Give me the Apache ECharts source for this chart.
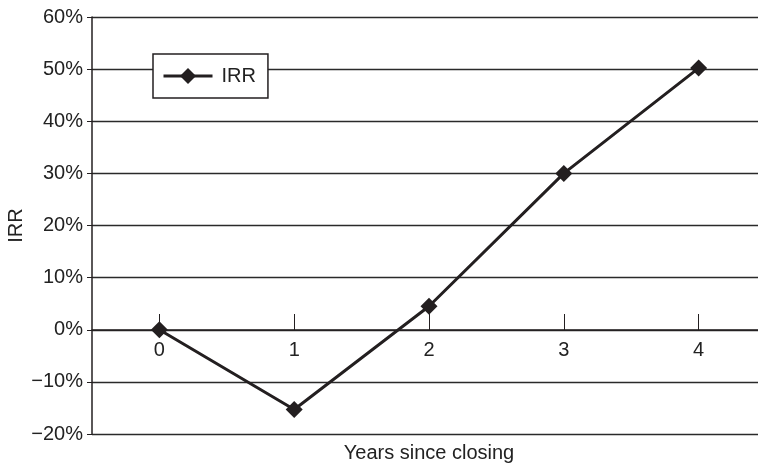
<!DOCTYPE html>
<html>
<head>
<meta charset="utf-8">
<script src="https://cdn.jsdelivr.net/npm/echarts@6/dist/echarts.min.js"></script>
<style>
html,body{margin:0;padding:0;background:#fff;}
#chart{width:758px;height:466px;}
</style>
</head>
<body>
<div id="chart"></div>
<script>
var categories = ['0', '1', '2', '3', '4'];
var irrValues = [0, -15.3, 4.5, 30, 50.2];
var seriesName = 'IRR';
var xAxisTitle = 'Years since closing';
var yAxisTitle = 'IRR';

var FONT = "'Liberation Sans', Arial, Helvetica, sans-serif";
var INK = '#231f20';
var FS = 20;

var chart = echarts.init(document.getElementById('chart'));
chart.setOption({
  animation: false,
  backgroundColor: '#fff',
  textStyle: { fontFamily: FONT },
  grid: { left: 92, right: -8, top: 17, bottom: 32, containLabel: false, outerBoundsMode: 'none' },
  legend: {
    data: [seriesName],
    left: 153, top: 54,
    orient: 'horizontal',
    backgroundColor: '#fff',
    borderColor: INK, borderWidth: 1.5, borderRadius: 0,
    padding: [12, 12, 12, 9],
    itemWidth: 49, itemHeight: 20, itemGap: 0,
    lineStyle: { width: 3, color: INK },
    itemStyle: { color: INK },
    textStyle: { fontFamily: FONT, fontSize: FS, color: '#222', padding: [0, 0, 0, 4] }
  },
  xAxis: {
    type: 'category',
    data: categories,
    boundaryGap: true,
    position: 'bottom',
    offset: -104,
    name: xAxisTitle,
    nameLocation: 'middle',
    nameGap: 113,
    nameMoveOverlap: false,
    nameTextStyle: { fontFamily: FONT, fontSize: FS, color: '#222' },
    axisLine: { onZero: false, lineStyle: { color: INK, width: 1.5 } },
    axisTick: { show: true, inside: true, length: 16, alignWithLabel: true, lineStyle: { color: INK, width: 1 } },
    axisLabel: { fontFamily: FONT, fontSize: FS, color: '#222', margin: 10 },
    splitLine: { show: false }
  },
  yAxis: {
    type: 'value',
    min: -20, max: 60, interval: 10,
    name: yAxisTitle,
    nameLocation: 'middle',
    nameRotate: 90,
    nameGap: 66,
    nameMoveOverlap: false,
    nameTextStyle: { fontFamily: FONT, fontSize: FS, color: '#222' },
    axisLine: { show: true, lineStyle: { color: INK, width: 1.5 } },
    axisTick: { show: true, inside: false, length: 5, lineStyle: { color: INK, width: 1 } },
    axisLabel: {
      fontFamily: FONT, fontSize: FS, color: '#222', margin: 9,
      formatter: function (v) { return (v < 0 ? '\u2212' + Math.abs(v) : v) + '%'; }
    },
    splitLine: { show: true, lineStyle: { color: '#2a2a2a', width: 1.3 } }
  },
  series: [{
    name: seriesName,
    type: 'line',
    data: irrValues,
    symbol: 'diamond',
    symbolSize: 17,
    itemStyle: { color: INK },
    lineStyle: { color: INK, width: 3 },
    z: 5
  }]
});
</script>
</body>
</html>
